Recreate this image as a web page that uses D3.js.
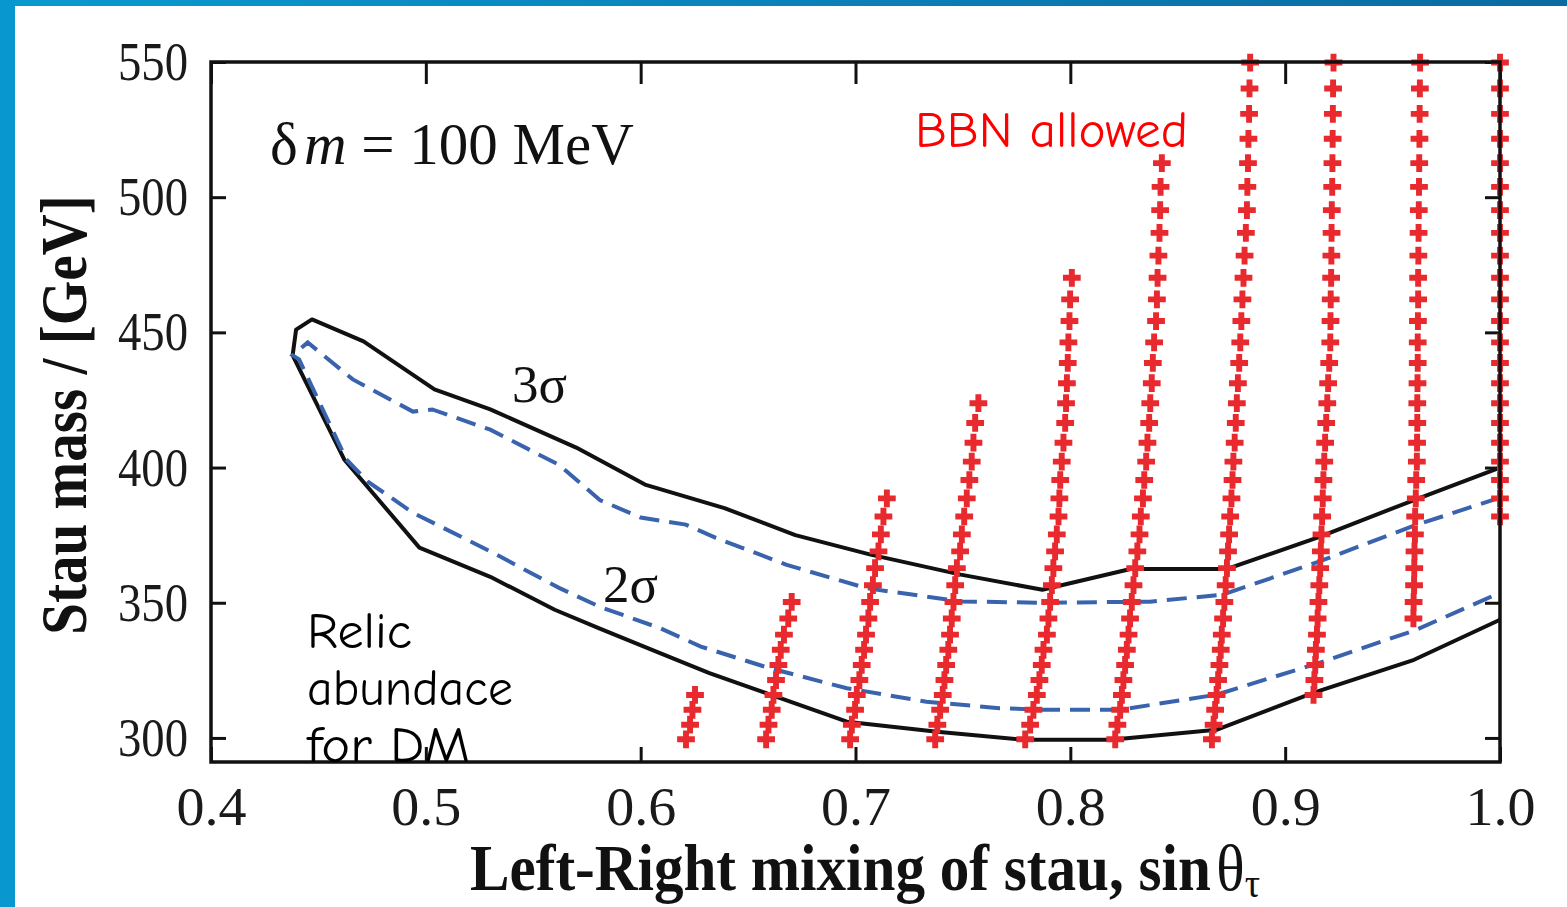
<!DOCTYPE html>
<html>
<head>
<meta charset="utf-8">
<script src="https://cdn.jsdelivr.net/npm/d3@7"></script>
<style>
body { margin: 0; background: #fff; }
svg { display: block; }
</style>
</head>
<body>
<script>
// axis ticks
var sinTicks = [0.4, 0.5, 0.6, 0.7, 0.8, 0.9, 1.0];
var massTicks = [300, 350, 400, 450, 500, 550];

// contours [sin theta, stau mass], from the tip on the left to x = 1
var sigma3Upper = [[0.438, 441.5], [0.4396, 451], [0.447, 454.8], [0.471, 446.7], [0.504, 428.9], [0.530, 421.5],
    [0.570, 407.4], [0.602, 393.7], [0.639, 385], [0.672, 375], [0.707, 367.8], [0.749, 360.4], [0.787, 354.8],
    [0.828, 362.5], [0.873, 362.5], [0.916, 374.4], [0.960, 388], [1.0, 400]];
var sigma3Lower = [[0.438, 441.5], [0.462, 403], [0.497, 370.4], [0.530, 359.6], [0.560, 347.4], [0.581, 340.4],
    [0.609, 331.4], [0.632, 324], [0.663, 315.3], [0.696, 306], [0.738, 302.3], [0.779, 299.3], [0.819, 299.3],
    [0.868, 303], [0.913, 316.7], [0.960, 328.9], [1.0, 343.7]];
var sigma2Upper = [[0.438, 441.5], [0.445, 446.3], [0.466, 432.6], [0.494, 420.7], [0.503, 421.5], [0.530, 414],
    [0.562, 401], [0.581, 388], [0.600, 381.5], [0.621, 378.9], [0.635, 374], [0.668, 364], [0.705, 355.4],
    [0.749, 350.5], [0.788, 350], [0.837, 350.4], [0.871, 353], [0.915, 365], [0.960, 378.5], [1.0, 388.9]];
var sigma2Lower = [[0.438, 441.5], [0.441, 440], [0.463, 403], [0.473, 394.8], [0.494, 383.3], [0.530, 369],
    [0.562, 355.5], [0.581, 348.5], [0.609, 340.6], [0.628, 333.8], [0.660, 325.8], [0.696, 318.4], [0.733, 313.4],
    [0.767, 311], [0.788, 310.4], [0.823, 310.4], [0.868, 316], [0.916, 327.8], [0.961, 340], [1.0, 353.7]];

// BBN allowed scan: mass levels shared by all columns, and sin theta of each cross per column
var massLevels = [299.5, 304.9, 310.4, 315.9, 321.4, 327, 332.6, 338.2, 344.2, 350.3, 356.5, 362.8, 369, 375.3,
    381.9, 388.6, 395.4, 402.2, 409.2, 416.5, 423.8, 431.2, 438.7, 446.3, 454.2, 462.2, 470.2, 478.4, 486.8,
    495.2, 503.8, 512.6, 521.6, 530.8, 540.2, 549.8];
var bbnStart = [0, 0, 0, 0, 0, 0, 0, 3, 8, 14];
var bbnCol1 = [0.6211, 0.6230, 0.6241, 0.6253];
var bbnCol2 = [0.6584, 0.6595, 0.6610, 0.6618, 0.6630, 0.6641, 0.6652, 0.6667, 0.6687, 0.6703];
var bbnCol3 = [0.6975, 0.6983, 0.6998, 0.7006, 0.7018, 0.7029, 0.7040, 0.7049, 0.7060, 0.7068, 0.7081, 0.7091,
    0.7107, 0.7118, 0.7130, 0.7146];
var bbnCol4 = [0.7371, 0.7381, 0.7394, 0.7406, 0.7414, 0.7422, 0.7432, 0.7440, 0.7448, 0.7456, 0.7464, 0.7472,
    0.7487, 0.7495, 0.7506, 0.7518, 0.7530, 0.7541, 0.7549, 0.7557, 0.7572];
var bbnCol5 = [0.7790, 0.7813, 0.7828, 0.7844, 0.7856, 0.7867, 0.7875, 0.7891, 0.7898, 0.7906, 0.7914, 0.7921,
    0.7929, 0.7937, 0.7945, 0.7949, 0.7953, 0.7960, 0.7968, 0.7976, 0.7980, 0.7984, 0.7988, 0.7991, 0.7996,
    0.7999, 0.8007];
var bbnCol6 = [0.8209, 0.8219, 0.8232, 0.8240, 0.8247, 0.8255, 0.8263, 0.8271, 0.8278, 0.8286, 0.8294, 0.8302,
    0.8312, 0.8322, 0.8328, 0.8338, 0.8344, 0.8353, 0.8359, 0.8367, 0.8372, 0.8379, 0.8384, 0.8390, 0.8399,
    0.8403, 0.8406, 0.8410, 0.8415, 0.8418, 0.8420, 0.8426];
var bbnCol7 = [0.8659, 0.8667, 0.8674, 0.8681, 0.8688, 0.8694, 0.8700, 0.8705, 0.8711, 0.8717, 0.8723, 0.8729,
    0.8734, 0.8739, 0.8744, 0.8750, 0.8755, 0.8759, 0.8765, 0.8770, 0.8775, 0.8780, 0.8786, 0.8791, 0.8796,
    0.8801, 0.8806, 0.8811, 0.8817, 0.8822, 0.8824, 0.8827, 0.8829, 0.8832, 0.8834, 0.8837];
var bbnCol8 = [0.9132, 0.9136, 0.9140, 0.9143, 0.9148, 0.9151, 0.9155, 0.9159, 0.9163, 0.9166, 0.9169, 0.9172,
    0.9175, 0.9178, 0.9182, 0.9186, 0.9191, 0.9196, 0.9200, 0.9205, 0.9210, 0.9211, 0.9212, 0.9214, 0.9215,
    0.9216, 0.9217, 0.9219, 0.9220, 0.9221, 0.9222, 0.9223, 0.9225];
var bbnCol9 = [0.9597, 0.9598, 0.9600, 0.9601, 0.9602, 0.9604, 0.9605, 0.9608, 0.9610, 0.9613, 0.9614, 0.9615,
    0.9615, 0.9616, 0.9617, 0.9617, 0.9618, 0.9619, 0.9619, 0.9620, 0.9621, 0.9622, 0.9623, 0.9624, 0.9625,
    0.9626, 0.9627, 0.9628];
var bbnCol10 = [1.0, 1.0, 1.0, 1.0, 1.0, 1.0, 1.0, 1.0, 1.0, 1.0, 1.0, 1.0, 1.0, 1.0, 1.0, 1.0, 1.0, 1.0, 1.0,
    1.0, 1.0, 1.0];
var bbnCols = [bbnCol1, bbnCol2, bbnCol3, bbnCol4, bbnCol5, bbnCol6, bbnCol7, bbnCol8, bbnCol9, bbnCol10];

var width = 1567, height = 907;
var serif = "'Liberation Serif', 'Times New Roman', serif";
var comic = "'Comic Sans MS', 'Comic Neue', 'Noto Sans', sans-serif";

var svg = d3.select("body").append("svg")
    .attr("width", width)
    .attr("height", height);

// slide frame
var grad = svg.append("defs").append("linearGradient").attr("id", "topbar");
grad.append("stop").attr("offset", "0%").attr("stop-color", "#0a9ad0");
grad.append("stop").attr("offset", "100%").attr("stop-color", "#0a6aa2");
svg.append("rect").attr("width", width).attr("height", height).attr("fill", "#fff");
svg.append("rect").attr("width", width).attr("height", 6).attr("fill", "url(#topbar)");
svg.append("rect").attr("width", 15).attr("height", height).attr("fill", "#0898cf");

// scales
var x = d3.scaleLinear().domain([0.4, 1.0]).range([211, 1500]);
var y = d3.scaleLinear().domain([291.1, 550]).range([762, 62]);

function styleAxis(g) {
    g.select(".domain").remove();
    g.selectAll(".tick line").attr("stroke", "#111").attr("stroke-width", 3);
    g.attr("font-family", serif).attr("font-size", 55);
    g.selectAll(".tick text")
        .attr("fill", "#1a1a1a")
        .attr("textLength", 70)
        .attr("lengthAdjust", "spacingAndGlyphs");
}

svg.append("g")
    .attr("transform", "translate(0,762)")
    .call(d3.axisBottom(x).tickValues(sinTicks).tickSize(-15).tickPadding(24).tickFormat(d3.format(".1f")))
    .call(styleAxis);
svg.append("g")
    .attr("transform", "translate(0,62)")
    .call(d3.axisTop(x).tickValues(sinTicks).tickSize(-22).tickFormat(""))
    .call(styleAxis);
svg.append("g")
    .attr("transform", "translate(211,0)")
    .call(d3.axisLeft(y).tickValues(massTicks).tickSize(-15).tickPadding(23))
    .call(styleAxis);
svg.append("g")
    .attr("transform", "translate(1500,0)")
    .call(d3.axisRight(y).tickValues(massTicks).tickSize(-15).tickFormat(""))
    .call(styleAxis);

// contours
var line = d3.line()
    .x(function(d) { return x(d[0]); })
    .y(function(d) { return y(d[1]); });

svg.append("path")
    .datum(sigma3Upper.slice().reverse().concat(sigma3Lower.slice(1)))
    .attr("d", line)
    .attr("fill", "none")
    .attr("stroke", "#111")
    .attr("stroke-width", 4)
    .attr("stroke-linejoin", "round");

svg.append("path")
    .datum(sigma2Upper.slice().reverse().concat(sigma2Lower.slice(1)))
    .attr("d", line)
    .attr("fill", "none")
    .attr("stroke", "#3a63ae")
    .attr("stroke-width", 4)
    .attr("stroke-dasharray", "20,10");

// BBN allowed crosses
var cross = d3.symbol().type(d3.symbolCross).size(175);
var crossG = svg.append("g");
bbnCols.forEach(function(col, c) {
    var pts = col.map(function(s, i) { return [s, massLevels[bbnStart[c] + i]]; });
    crossG.selectAll(".cross-" + c)
        .data(pts)
        .enter()
        .append("path")
            .attr("class", "cross-" + c)
            .attr("d", cross)
            .attr("transform", function(d) { return "translate(" + x(d[0]) + "," + y(d[1]) + ")"; })
            .attr("fill", "#e8292e");
});

// plot frame
svg.append("rect")
    .attr("x", x(0.4))
    .attr("y", y(550))
    .attr("width", x(1.0) - x(0.4))
    .attr("height", y(291.1) - y(550))
    .attr("fill", "none")
    .attr("stroke", "#111")
    .attr("stroke-width", 3.5);

// labels in the plot
var dm = svg.append("text")
    .attr("x", x(0.4275))
    .attr("y", y(512.2))
    .attr("font-family", serif)
    .attr("font-size", 59)
    .attr("fill", "#111");
dm.append("tspan").text("δ");
dm.append("tspan").attr("font-style", "italic").attr("dx", 6).text("m");
dm.append("tspan").text(" = 100 MeV");

svg.append("text")
    .attr("x", x(0.5401))
    .attr("y", y(424.1))
    .attr("font-family", serif)
    .attr("font-size", 53)
    .attr("fill", "#111")
    .text("3σ");

svg.append("text")
    .attr("x", x(0.5825))
    .attr("y", y(350.4))
    .attr("font-family", serif)
    .attr("font-size", 53)
    .attr("fill", "#111")
    .text("2σ");

svg.append("text")
    .attr("x", x(0.7277))
    .attr("y", y(518.5))
    .attr("font-family", comic)
    .attr("font-size", 50)
    .attr("fill", "#ff0000")
    .attr("textLength", 273)
    .attr("lengthAdjust", "spacingAndGlyphs")
    .text("BBN allowed");

var relic = [["Relic", 333.3, 105], ["abundace", 312.2, 206], ["for DM", 291.0, 163]];
relic.forEach(function(r) {
    svg.append("text")
        .attr("x", x(0.4447))
        .attr("y", y(r[1]))
        .attr("font-family", comic)
        .attr("font-size", 50)
        .attr("fill", "#000")
        .attr("textLength", r[2])
        .attr("lengthAdjust", "spacingAndGlyphs")
        .text(r[0]);
});

// axis titles
var xt = svg.append("text")
    .attr("transform", "translate(865,890) scale(0.91,1)")
    .attr("text-anchor", "middle")
    .attr("font-family", serif)
    .attr("font-size", 65)
    .attr("font-weight", "bold")
    .attr("fill", "#111");
xt.append("tspan").text("Left-Right mixing of stau, sin");
xt.append("tspan").attr("dx", 6).attr("font-weight", "normal").text("θ");
xt.append("tspan").attr("dy", 7).attr("font-size", 42).attr("font-weight", "normal").text("τ");

svg.append("text")
    .attr("transform", "translate(86,415) rotate(-90) scale(0.866,1)")
    .attr("text-anchor", "middle")
    .attr("font-family", serif)
    .attr("font-size", 66)
    .attr("font-weight", "bold")
    .attr("fill", "#111")
    .text("Stau mass / [GeV]");
</script>
</body>
</html>
